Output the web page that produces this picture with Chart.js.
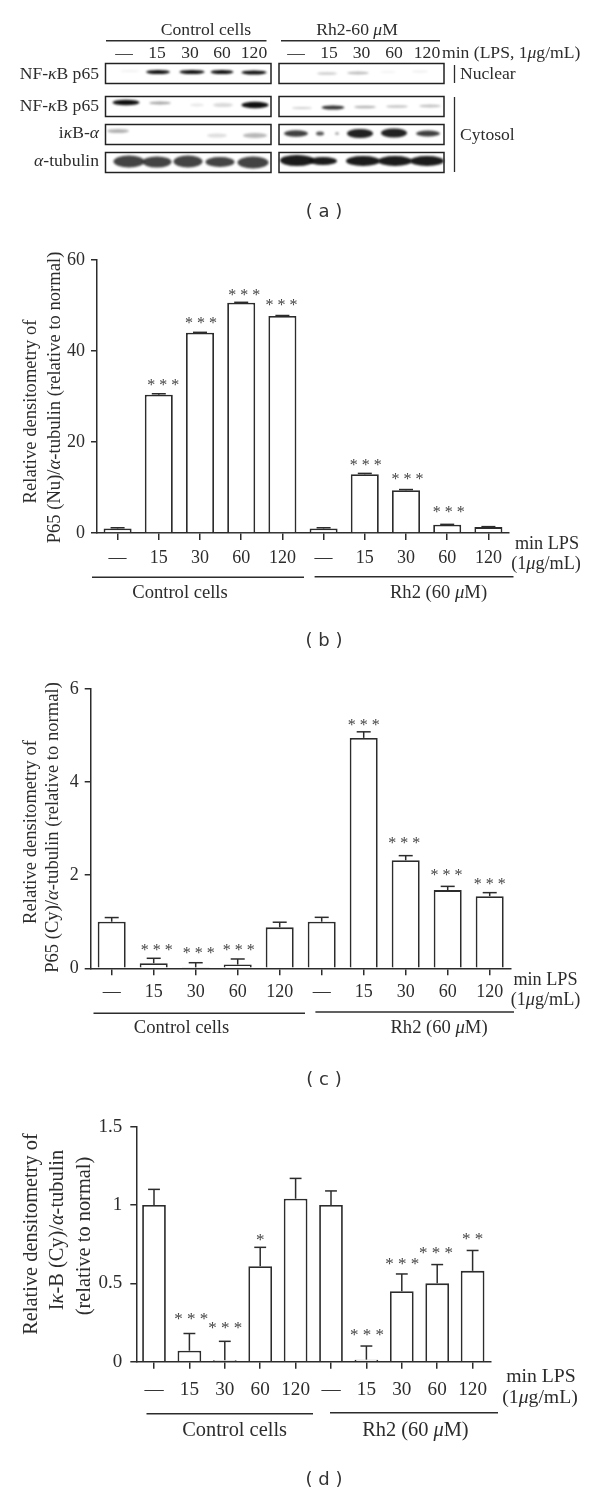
<!DOCTYPE html>
<html lang="en">
<head>
    <meta charset="UTF-8">
    <title>NF-kB p65 and IkB-a densitometry</title>
    <script src="https://cdn.jsdelivr.net/npm/chart.js@4/dist/chart.umd.min.js"></script>
    <style>
        body { margin: 0; background: #fff; }
        .page { position: relative; width: 600px; height: 1495px; overflow: hidden; }
        canvas { position: absolute; left: 0; }
    </style>
</head>
<body>
    <div class="page" id="page"></div>

    <script>
        // values
        const timePoints = ['—', '15', '30', '60', '120', '—', '15', '30', '60', '120'];

        const nuclearMeans = [1, 30.4, 44, 50.6, 47.7, 1, 12.9, 9.4, 1.8, 1.3];
        const nuclearErrors = [0.15, 0.2, 0.1, 0.1, 0.1, 0.15, 0.2, 0.15, 0.1, 0.1];
        const nuclearStars = ['', '***', '***', '***', '***', '', '***', '***', '***', ''];
        const nuclearTicks = [0, 20, 40, 60];

        const cytosolMeans = [1, 0.11, 0.02, 0.08, 0.88, 1, 4.95, 2.32, 1.68, 1.55];
        const cytosolErrors = [0.09, 0.105, 0.1, 0.12, 0.11, 0.095, 0.13, 0.1, 0.08, 0.075];
        const cytosolStars = ['', '***', '***', '***', '', '', '***', '***', '***', '***'];
        const cytosolTicks = [0, 2, 4, 6];

        const ikbMeans = [1, 0.07, 0.01, 0.61, 1.04, 1, 0.013, 0.45, 0.5, 0.58];
        const ikbErrors = [0.1, 0.11, 0.12, 0.12, 0.13, 0.09, 0.087, 0.11, 0.12, 0.13];
        const ikbStars = ['', '***', '***', '*', '', '', '***', '***', '***', '**'];
        const ikbTicks = [0, 0.5, 1, 1.5];

        // band darkness for the blot strip, lane by lane
        const controlNuclearP65 = [0.06, 1, 1, 1, 1];
        const controlCytosolP65 = [1, 0.38, 0.1, 0.16, 1];
        const controlIkb = [0.32, 0.14, 0.3];
        const controlTubulin = [0.78, 0.78, 0.78, 0.78, 0.78];
        const rh2NuclearP65 = [0.22, 0.28, 0.05, 0.07];
        const rh2CytosolP65 = [0.2, 0.85, 0.32, 0.26, 0.26];
        const rh2Ikb = [0.8, 0.7, 0.35, 0.92, 0.92, 0.8];
        const rh2Tubulin = [0.95, 0.95, 0.95, 0.95, 0.95];

        const serif = '"Liberation Serif", serif';
        const sans = '"DejaVu Sans", sans-serif';
        const ink = '#2c2c2c';

        // where the bands sit on the strip: x, y, width, height
        const blotBands = [
            { levels: controlNuclearP65, spots: [[130, 71, 20, 2], [158, 72, 24, 4], [192, 72, 25, 4], [222, 72, 23, 4], [254, 72.5, 25, 4]] },
            { levels: controlCytosolP65, spots: [[126, 102.5, 27, 5.5], [160, 103, 22, 3], [197, 105, 14, 3], [223, 105, 20, 4], [255, 105, 27, 6.5]] },
            { levels: controlIkb, spots: [[118, 131, 22, 4], [217, 135.5, 20, 4], [255, 135.5, 24, 5]] },
            { levels: controlTubulin, spots: [[129, 161.5, 31, 12], [157, 162, 29, 11], [188, 161.5, 29, 12], [220, 162, 29, 10], [253, 162.5, 31, 12]] },
            { levels: rh2NuclearP65, spots: [[327, 73.5, 20, 2.5], [358, 73, 22, 3], [388, 72, 16, 2], [420, 71.5, 16, 2]] },
            { levels: rh2CytosolP65, spots: [[302, 108, 20, 2], [333, 107.5, 23, 4], [365, 107, 22, 2.5], [397, 106.5, 22, 2.5], [430, 106, 22, 3]] },
            { levels: rh2Ikb, spots: [[296, 133.5, 24, 6.5], [320, 133.5, 8, 4], [337, 133.5, 4, 3], [360, 133.5, 26, 9], [394, 133, 26, 9], [428, 133.5, 24, 6]] },
            { levels: rh2Tubulin, spots: [[297, 160.5, 34, 11], [323, 161, 28, 8], [363, 161, 34, 10], [395, 161, 34, 10], [427, 161, 34, 10]] }
        ];
        const blotBoxes = [
            [105.5, 63.5, 165.5, 20], [105.5, 96.5, 165.5, 20], [105.5, 124.5, 165.5, 20], [105.5, 152.5, 165.5, 20],
            [279, 63.5, 165, 20], [279, 96.5, 165, 20], [279, 124.5, 165, 20], [279, 152.5, 165, 20]
        ];

        // text with {..} parts set in italic, aligned by hand because canvas has no runs
        function richText(ctx, label) {
            const size = label.size || 18.6;
            const parts = label.text.split(/(\{[^}]*\})/).filter(p => p);
            const fontOf = p => (p[0] === '{' ? 'italic ' : '') + size + 'px ' + (label.family || serif);
            const clean = p => p.replace(/[{}]/g, '');
            let total = 0;
            parts.forEach(p => { ctx.font = fontOf(p); total += ctx.measureText(clean(p)).width; });
            let start = label.align === 'left' ? 0 : label.align === 'right' ? -total : -total / 2;

            ctx.save();
            ctx.translate(label.x, label.y);
            if (label.rotate) ctx.rotate(-Math.PI / 2);
            ctx.fillStyle = label.color || ink;
            ctx.textBaseline = 'middle';
            ctx.textAlign = 'left';
            parts.forEach(p => {
                ctx.font = fontOf(p);
                ctx.fillText(clean(p), start, 0);
                start += ctx.measureText(clean(p)).width;
            });
            ctx.restore();
        }

        function line(ctx, x1, y1, x2, y2, width) {
            ctx.beginPath();
            ctx.moveTo(x1, y1);
            ctx.lineTo(x2, y2);
            ctx.lineWidth = width || 1.5;
            ctx.strokeStyle = ink;
            ctx.stroke();
        }

        function addCanvas(top, height) {
            const canvas = document.createElement('canvas');
            canvas.width = 600;
            canvas.height = height;
            canvas.style.top = top + 'px';
            document.getElementById('page').appendChild(canvas);
            return canvas;
        }

        // every text and rule outside the axes is given in page coordinates
        const extrasPlugin = panel => ({
            id: 'extras',
            afterDatasetsDraw(chart) {
                const ctx = chart.ctx;
                ctx.save();
                ctx.translate(0, -panel.top);
                (panel.rules || []).forEach(r => line(ctx, r[0], r[1], r[2], r[3], r[4]));
                (panel.labels || []).forEach(l => richText(ctx, l));
                ctx.restore();
            }
        });

        const errorPlugin = panel => ({
            id: 'errors',
            afterDatasetsDraw(chart) {
                const ctx = chart.ctx;
                const y = chart.scales.y;
                const bars = chart.getDatasetMeta(0).data;
                bars.forEach((bar, i) => {
                    const top = y.getPixelForValue(panel.means[i] + panel.errors[i]);
                    const cap = bar.width * 0.25;
                    line(ctx, bar.x, y.getPixelForValue(panel.means[i]), bar.x, top);
                    line(ctx, bar.x - cap, top, bar.x + cap, top);

                    if (!panel.stars[i]) return;
                    const text = panel.stars[i].split('').join(' ');
                    ctx.font = panel.starSize + 'px ' + serif;
                    const m = ctx.measureText(text);
                    ctx.fillStyle = '#444';
                    ctx.textAlign = 'center';
                    ctx.textBaseline = 'alphabetic';
                    ctx.fillText(text, bar.x + panel.starShift[i],
                        top - panel.starGap[i] + (m.actualBoundingBoxAscent - m.actualBoundingBoxDescent) / 2);
                });
            }
        });

        // the scale boxes were fitted to zero size, open them again so labels are not clipped
        const unclipPlugin = {
            id: 'unclip',
            beforeDraw(chart) {
                chart.scales.y.left = 0;
                chart.scales.x.bottom = chart.height;
            }
        };

        function barPanel(panel) {
            const height = panel.height;
            const canvas = addCanvas(panel.top, height);
            new Chart(canvas.getContext('2d'), {
                type: 'bar',
                data: {
                    labels: timePoints,
                    datasets: [{
                        data: panel.means,
                        backgroundColor: '#fff',
                        borderColor: ink,
                        borderWidth: 1.8,
                        borderSkipped: 'bottom',
                        barPercentage: panel.barWidth,
                        categoryPercentage: 1
                    }]
                },
                plugins: [unclipPlugin, errorPlugin(panel), extrasPlugin(panel)],
                options: {
                    responsive: false,
                    animation: false,
                    events: [],
                    layout: {
                        padding: {
                            left: panel.area.left,
                            right: 600 - panel.area.right,
                            top: panel.area.top - panel.top,
                            bottom: panel.top + height - panel.area.bottom
                        }
                    },
                    plugins: { legend: { display: false }, tooltip: { enabled: false } },
                    scales: {
                        x: {
                            afterFit: s => { s.height = 0; },
                            border: { color: ink, width: 1.5 },
                            grid: { offset: false, drawOnChartArea: false, color: ink, lineWidth: 1.5, tickLength: 7 },
                            ticks: {
                                autoSkip: false, maxRotation: 0, minRotation: 0, padding: panel.xPad,
                                color: ink, font: { family: serif, size: panel.tickSize }
                            }
                        },
                        y: {
                            min: panel.ticks[0],
                            max: panel.ticks[panel.ticks.length - 1],
                            afterFit: s => { s.width = 0; },
                            afterBuildTicks: s => { s.ticks = panel.ticks.map(v => ({ value: v })); },
                            border: { color: ink, width: 1.5 },
                            grid: { drawOnChartArea: false, color: ink, lineWidth: 1.5, tickLength: 6 },
                            ticks: {
                                padding: panel.yPad, color: ink,
                                font: { family: serif, size: panel.yTickSize },
                                callback: v => String(v)
                            }
                        }
                    }
                }
            });
        }

        // panel (a): the blot strip
        const blotText = 17.6;
        const blotPanel = {
            top: 0,
            rules: [
                [106, 40.7, 266.5, 40.7, 1.4], [281, 40.7, 440, 40.7, 1.4],
                [454.5, 65, 454.5, 83, 1.3], [454.5, 97, 454.5, 172, 1.3]
            ],
            labels: [
                { text: 'Control cells', x: 206, y: 30, size: blotText },
                { text: 'Rh2-60 {μ}M', x: 357, y: 30, size: blotText },
                { text: '—', x: 124, y: 53, size: blotText }, { text: '15', x: 157, y: 53, size: blotText },
                { text: '30', x: 190, y: 53, size: blotText }, { text: '60', x: 222, y: 53, size: blotText },
                { text: '120', x: 254, y: 53, size: blotText }, { text: '—', x: 296, y: 53, size: blotText },
                { text: '15', x: 329, y: 53, size: blotText }, { text: '30', x: 361.5, y: 53, size: blotText },
                { text: '60', x: 394, y: 53, size: blotText }, { text: '120', x: 427, y: 53, size: blotText },
                { text: 'min (LPS, 1{μ}g/mL)', x: 442, y: 53, size: blotText, align: 'left' },
                { text: 'NF-{κ}B p65', x: 99, y: 74.5, size: blotText, align: 'right' },
                { text: 'NF-{κ}B p65', x: 99, y: 106.5, size: blotText, align: 'right' },
                { text: 'i{κ}B-{α}', x: 99, y: 133.5, size: blotText, align: 'right' },
                { text: '{α}-tubulin', x: 99, y: 161.5, size: blotText, align: 'right' },
                { text: 'Nuclear', x: 460, y: 74, size: blotText, align: 'left' },
                { text: 'Cytosol', x: 460, y: 135.5, size: blotText, align: 'left' },
                { text: '( a )', x: 324, y: 212, size: 18, family: sans, color: '#333' }
            ]
        };

        const blotPlugin = {
            id: 'blot',
            afterDraw(chart) {
                const ctx = chart.ctx;
                ctx.save();
                ctx.filter = 'blur(1px)';
                blotBands.forEach(row => {
                    row.spots.forEach((s, i) => {
                        ctx.beginPath();
                        ctx.ellipse(s[0], s[1], s[2] / 2, s[3] / 2, 0, 0, Math.PI * 2);
                        ctx.fillStyle = 'rgba(15, 15, 15, ' + row.levels[i] + ')';
                        ctx.fill();
                    });
                });
                ctx.restore();
                blotBoxes.forEach(b => {
                    ctx.lineWidth = 1.5;
                    ctx.strokeStyle = '#222';
                    ctx.strokeRect(b[0], b[1], b[2], b[3]);
                });
            }
        };

        new Chart(addCanvas(0, 230).getContext('2d'), {
            type: 'scatter',
            data: { datasets: [] },
            plugins: [blotPlugin, extrasPlugin(blotPanel)],
            options: {
                responsive: false,
                animation: false,
                events: [],
                plugins: { legend: { display: false }, tooltip: { enabled: false } },
                scales: { x: { display: false }, y: { display: false } }
            }
        });

        barPanel({
            top: 240, height: 420,
            area: { left: 97, right: 509, top: 260, bottom: 533 },
            means: nuclearMeans, errors: nuclearErrors, stars: nuclearStars, ticks: nuclearTicks,
            barWidth: 0.68, tickSize: 18, yTickSize: 18, starSize: 16, xPad: 7, yPad: 6,
            starShift: [0, 4.5, 1, 3, -1, 0, 1, 1.5, 1.5, 0],
            starGap: [0, 11, 12, 9.5, 12.6, 0, 11.3, 13, 15, 0],
            rules: [[92, 577.3, 304, 577.3], [314.6, 576.7, 513.5, 576.7]],
            labels: [
                { text: 'Relative densitometry of', x: 31, y: 411.5, rotate: true },
                { text: 'P65 (Nu)/{α}-tubulin (relative to normal)', x: 55, y: 397.5, rotate: true },
                { text: 'min LPS', x: 547, y: 544.5, size: 18.2 },
                { text: '(1{μ}g/mL)', x: 546, y: 564, size: 18.2 },
                { text: 'Control cells', x: 180, y: 592.7 },
                { text: 'Rh2 (60 {μ}M)', x: 438.5, y: 592.7 },
                { text: '( b )', x: 324, y: 641.7, size: 18, family: sans, color: '#333' }
            ]
        });

        barPanel({
            top: 670, height: 420,
            area: { left: 90.7, right: 510.7, top: 689, bottom: 968.3 },
            means: cytosolMeans, errors: cytosolErrors, stars: cytosolStars, ticks: cytosolTicks,
            barWidth: 0.667, tickSize: 18, yTickSize: 18, starSize: 16, xPad: 6, yPad: 6,
            starShift: [0, 3, 3, 1, 0, 0, 0, -1.4, -1.3, 0],
            starGap: [0, 10.6, 12.7, 11.3, 0, 0, 9.3, 15, 14.3, 11],
            rules: [[93.5, 1013.3, 305, 1013.3], [315.4, 1012, 514, 1012]],
            labels: [
                { text: 'Relative densitometry of', x: 31, y: 832, rotate: true },
                { text: 'P65 (Cy)/{α}-tubulin (relative to normal)', x: 53, y: 827.5, rotate: true },
                { text: 'min LPS', x: 545.5, y: 980, size: 18.2 },
                { text: '(1{μ}g/mL)', x: 545.5, y: 1000, size: 18.2 },
                { text: 'Control cells', x: 181.5, y: 1028.3 },
                { text: 'Rh2 (60 {μ}M)', x: 439, y: 1028.3 },
                { text: '( c )', x: 324, y: 1080, size: 18, family: sans, color: '#333' }
            ]
        });

        barPanel({
            top: 1100, height: 395,
            area: { left: 136.3, right: 490.3, top: 1126.7, bottom: 1361.7 },
            means: ikbMeans, errors: ikbErrors, stars: ikbStars, ticks: ikbTicks,
            barWidth: 0.67, tickSize: 19.2, yTickSize: 19, starSize: 17, xPad: 10, yPad: 8,
            starShift: [0, 1.8, 0.4, 0, 0, 0, 0.5, 0.5, -1.3, 0],
            starGap: [0, 17, 16, 10, 0, 0, 14, 12, 14, 13.7],
            rules: [[146.5, 1413.7, 313, 1413.7], [330, 1412.7, 498, 1412.7]],
            labels: [
                { text: 'Relative densitometry of', x: 32, y: 1234, size: 20.4, rotate: true },
                { text: 'I{κ}-B (Cy)/{α}-tubulin', x: 57.5, y: 1230, size: 20.4, rotate: true },
                { text: '(relative to normal)', x: 85, y: 1236, size: 20.4, rotate: true },
                { text: 'min LPS', x: 541, y: 1377.3, size: 19.7 },
                { text: '(1{μ}g/mL)', x: 540, y: 1398, size: 19.7 },
                { text: 'Control cells', x: 234.6, y: 1430.7, size: 20.4 },
                { text: 'Rh2 (60 {μ}M)', x: 415.4, y: 1430.7, size: 20.4 },
                { text: '( d )', x: 324, y: 1480, size: 18, family: sans, color: '#333' }
            ]
        });
    </script>
</body>
</html>
